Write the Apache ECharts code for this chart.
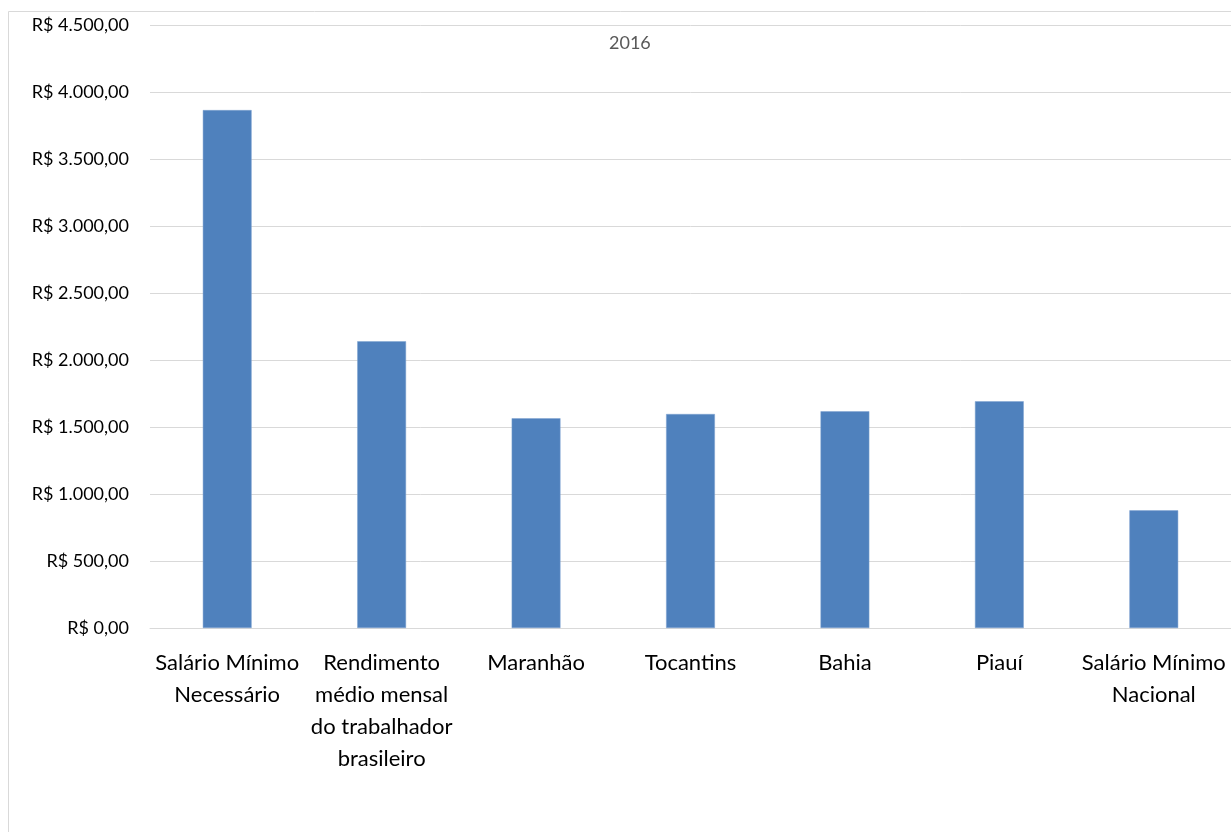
<!DOCTYPE html>
<html>
<head>
<meta charset="utf-8">
<script src="https://cdn.jsdelivr.net/npm/echarts@6/dist/echarts.min.js"></script>
<style>
html,body{margin:0;padding:0;background:#fff;}
#chart{width:1231px;height:832px;}
</style>
</head>
<body>
<div id="chart"></div>
<script>
const categories = [
  'Salário Mínimo\nNecessário',
  'Rendimento\nmédio mensal\ndo trabalhador\nbrasileiro',
  'Maranhão',
  'Tocantins',
  'Bahia',
  'Piauí',
  'Salário Mínimo\nNacional'
];
const values = [3865, 2140, 1565, 1597, 1617, 1692, 878];
const chartTitle = '2016';
const yMin = 0, yMax = 4500, yStep = 500;

function brl(v){
  const s = Math.round(v).toString().replace(/\B(?=(\d{3})+(?!\d))/g, '.');
  return 'R$ ' + s + ',00';
}

const chart = echarts.init(document.getElementById('chart'), null, {renderer:'canvas'});
chart.setOption({
  backgroundColor:'#ffffff',
  animation:false,
  title:{
    text: chartTitle,
    left: 604, top: 29,
    textStyle:{fontFamily:'Lato', fontSize:18, fontWeight:'normal', color:'#595959'}
  },
  graphic:[{
    type:'rect', silent:true,
    shape:{x:8.5, y:11.5, width:1400, height:1000},
    style:{fill:'none', stroke:'#d9d9d9', lineWidth:1}
  }],
  grid:{left:150, top:25, width:1085, height:603, containLabel:false},
  xAxis:{
    type:'category',
    data: categories,
    axisTick:{show:false},
    axisLine:{show:true, lineStyle:{color:'#d9d9d9', width:1}},
    axisLabel:{
      interval:0, margin:19, color:'#000',
      fontFamily:'Lato', fontSize:22, lineHeight:32
    }
  },
  yAxis:{
    type:'value', min:yMin, max:yMax, interval:yStep,
    axisLine:{show:false}, axisTick:{show:false},
    splitLine:{lineStyle:{color:'#d9d9d9', width:1}},
    axisLabel:{
      margin:21, color:'#000', fontFamily:'Lato', fontSize:18,
      formatter: brl
    }
  },
  series:[{
    type:'bar',
    data: values,
    barWidth:'31.6%',
    itemStyle:{color:'#4F81BD', borderColor:'#7fa3d1', borderWidth:0.5}
  }]
});
</script>
</body>
</html>
